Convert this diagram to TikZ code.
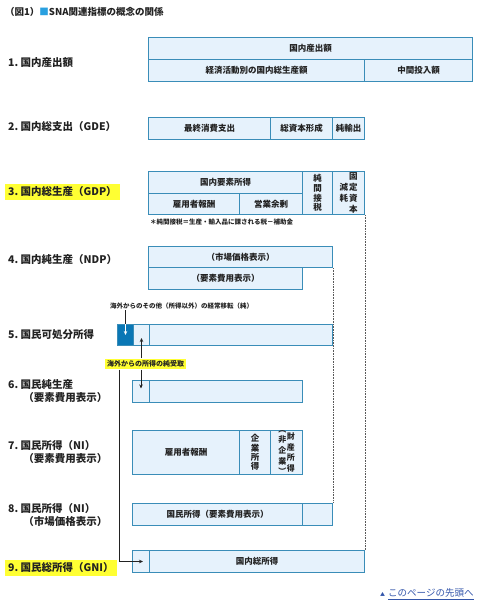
\documentclass[tikz,border=0pt]{standalone}
\usepackage{fontspec}
\setmainfont{Noto Sans CJK JP}
\usepackage{xcolor}
\usetikzlibrary{arrows.meta,positioning,calc}

\definecolor{boxline}{RGB}{58,141,184}
\definecolor{boxfill}{RGB}{230,242,252}
\definecolor{boxdark}{RGB}{10,119,181}
\definecolor{sqblue}{RGB}{41,160,224}
\definecolor{hlyellow}{RGB}{255,255,51}
\definecolor{ink}{RGB}{34,34,34}
\definecolor{linkblue}{RGB}{51,85,170}

\begin{document}
\begin{tikzpicture}[
  x=1pt, y=-1pt,
  cell/.style={draw=boxline, fill=boxfill, line width=1pt, anchor=north west,
               inner sep=0pt, align=center, text=ink,
               font=\fontsize{8.5}{9.8}\selectfont\bfseries},
  lbl/.style={anchor=west, inner sep=0pt, align=left, text=ink,
              font=\fontsize{10.5}{13}\selectfont\bfseries},
  hl/.style={lbl, fill=hlyellow, inner xsep=3pt, inner ysep=3pt},
  note/.style={anchor=west, inner sep=1pt, text=ink,
               font=\fontsize{6.5}{7}\selectfont\bfseries},
  arr/.style={-{Stealth[length=4pt,width=3.5pt]}, line width=0.9pt, draw=ink},
  dots/.style={draw=black!65, line width=0.8pt, dash pattern=on 0.8pt off 0.8pt},
]
\useasboundingbox (0,0) rectangle (480,607);

% title
\node[anchor=west, inner sep=0pt, text=ink, font=\fontsize{9.5}{11}\selectfont\bfseries]
  (title) at (5,12) {（図1）\textcolor{sqblue}{■}SNA関連指標の概念の関係};

% row labels
\node[lbl] (l1) at (8,63)  {1.\ 国内産出額};
\node[lbl] (l2) at (8,127) {2.\ 国内総支出（GDE）};
\node[hl]  (l3) at (5,192) {3.\ 国内総生産（GDP）};
\node[lbl] (l4) at (8,260) {4.\ 国内純生産（NDP）};
\node[lbl] (l5) at (8,335) {5.\ 国民可処分所得};
\node[lbl] (l6) at (8,391) {6.\ 国民純生産\\\hspace{1.45em}（要素費用表示）};
\node[lbl] (l7) at (8,452) {7.\ 国民所得（NI）\\\hspace{1.45em}（要素費用表示）};
\node[lbl] (l8) at (8,515) {8.\ 国民所得（NI）\\\hspace{1.45em}（市場価格表示）};
\node[hl]  (l9) at (5,568) {9.\ 国民総所得（GNI）};

% 1
\node[cell, minimum width=324, minimum height=22] (c1a) at (148,37) {国内産出額};
\node[cell, minimum width=216, minimum height=22] (c1b) at (148,59) {経済活動別の国内総生産額};
\node[cell, minimum width=108, minimum height=22] (c1c) at (364,59) {中間投入額};

% 2
\node[cell, minimum width=122, minimum height=22] (c2a) at (148,117) {最終消費支出};
\node[cell, minimum width=62,  minimum height=22] (c2b) at (270,117) {総資本形成};
\node[cell, minimum width=32,  minimum height=22] (c2c) at (332,117) {純輸出};

% 3
\node[cell, minimum width=154, minimum height=22] (c3a) at (148,171) {国内要素所得};
\node[cell, minimum width=91,  minimum height=21] (c3b) at (148,193) {雇用者報酬};
\node[cell, minimum width=63,  minimum height=21] (c3c) at (239,193) {営業余剰};
\node[cell, minimum width=30,  minimum height=43] (c3d) at (302,171) {純\\間\\接\\税};
\node[cell, minimum width=32,  minimum height=43] (c3e) at (332,171)
  {$\vcenter{\hbox{\shortstack{減\\耗}}}$\hspace{1pt}$\vcenter{\hbox{\shortstack{固\\定\\資\\本}}}$};
\node[note] (n3) at (149,222) {＊純間接税＝生産・輸入品に課される税－補助金};

% 4
\node[cell, minimum width=184, minimum height=21] (c4a) at (148,246) {（市場価格表示）};
\node[cell, minimum width=154, minimum height=22] (c4b) at (148,267) {（要素費用表示）};

% 5
\node[note] (ot) at (109,306) {海外からのその他（所得以外）の経常移転（純）};
\node[cell, fill=boxdark, minimum width=16, minimum height=21] (c5a) at (117,324) {};
\node[cell, minimum width=16,  minimum height=21] (c5b) at (133,324) {};
\node[cell, minimum width=183, minimum height=21] (c5c) at (149,324) {};
\node[note, fill=hlyellow, inner xsep=2pt, inner ysep=2pt,
      font=\fontsize{7}{8}\selectfont\bfseries] (yl) at (105,364) {海外からの所得の純受取};

% 6
\node[cell, minimum width=17,  minimum height=22] (c6a) at (132,380) {};
\node[cell, minimum width=153, minimum height=22] (c6b) at (149,380) {};

% 7
\node[cell, minimum width=107, minimum height=44] (c7a) at (132,430) {雇用者報酬};
\node[cell, minimum width=31,  minimum height=44,
      font=\fontsize{8.5}{9.3}\selectfont\bfseries] (c7b) at (239,430) {企\\業\\所\\得};
\node[cell, minimum width=32,  minimum height=44,
      font=\fontsize{8}{8.6}\selectfont\bfseries] (c7c) at (270,430)
  {$\vcenter{\hbox{\shortstack{︵\\非\\企\\業\\︶}}}$\hspace{0.5pt}$\vcenter{\hbox{\shortstack{財\\産\\所\\得}}}$};

% 8
\node[cell, minimum width=170, minimum height=22] (c8a) at (132,503) {国民所得（要素費用表示）};
\node[cell, minimum width=30,  minimum height=22] (c8b) at (302,503) {};

% 9
\node[cell, minimum width=17,  minimum height=22] (c9a) at (132,550) {};
\node[cell, minimum width=215, minimum height=22] (c9b) at (149,550) {国内総所得};

% dotted guides
\draw[dots] (c3e.south east) -- (c9b.north east);
\draw[dots] (c4a.south east) -- (c8b.north east);

% arrows
\draw[line width=0.9pt, draw=ink] (ot.south -| c5a.center) -- (c5a.north);
\draw[arr, draw=white, fill=white] (c5a.north) -- (c5a.center);
\draw[arr] (yl.north -| c5b.center) -- ($(c5b.center)+(0,3)$);
\draw[arr] (yl.south -| c6a.center) -- ($(c6a.center)+(0,-3)$);
\coordinate (drop) at (119,372);
\draw[arr] (yl.south -| drop) |- ($(c9a.center)+(2,0)$);

% link
\node[anchor=west, inner sep=0pt, text=linkblue, font=\fontsize{9.5}{11}\selectfont]
  (top) at (380,594) {{\fontsize{5}{6}\selectfont▲}\hspace{3pt}\underline{このページの先頭へ}};
\end{tikzpicture}
\end{document}
